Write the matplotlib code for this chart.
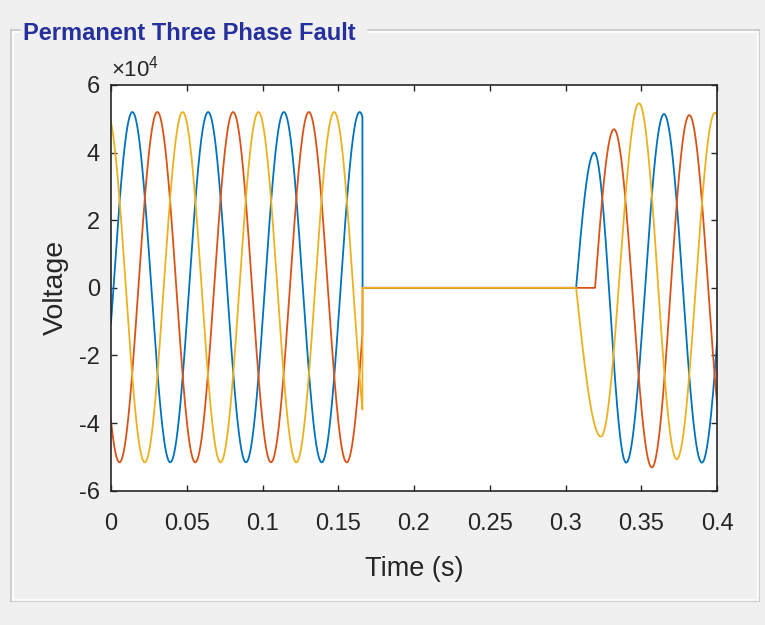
import numpy as np
import matplotlib
matplotlib.use('Agg')
import matplotlib.pyplot as plt
from matplotlib.lines import Line2D
from matplotlib.ticker import FuncFormatter

plt.rcParams['font.family'] = ['Liberation Sans', 'DejaVu Sans']
plt.rcParams['axes.unicode_minus'] = False
plt.rcParams['mathtext.fontset'] = 'custom'
plt.rcParams['mathtext.rm'] = 'Liberation Sans'

# fault window (s)
t_fault = 0.166

# phase A (blue): peaks / troughs (s, V)
a_pre_t = [-0.0109, 0.0141, 0.0391, 0.0641, 0.0891, 0.1141, 0.1391, 0.1641, 0.1891]
a_pre_v = [-5.2e4, 5.2e4, -5.16e4, 5.2e4, -5.16e4, 5.2e4, -5.16e4, 5.2e4, -5.16e4]
a_restore = 0.307
a_post_t = [0.319, 0.340, 0.365, 0.390, 0.415]
a_post_v = [4.0e4, -5.17e4, 5.14e4, -5.17e4, 5.1e4]

# phase B (red)
b_pre_t = [-0.0194, 0.0056, 0.0306, 0.0556, 0.0806, 0.1056, 0.1306, 0.1556, 0.1806]
b_pre_v = [5.2e4, -5.16e4, 5.2e4, -5.16e4, 5.2e4, -5.16e4, 5.2e4, -5.16e4, 5.2e4]
b_restore = 0.3195
b_post_t = [0.332, 0.357, 0.3817, 0.4067]
b_post_v = [4.69e4, -5.31e4, 5.11e4, -5.1e4]

# phase C (yellow)
c_pre_t = [-0.0027, 0.0223, 0.0473, 0.0723, 0.0973, 0.1223, 0.1473, 0.1723]
c_pre_v = [5.2e4, -5.16e4, 5.2e4, -5.16e4, 5.2e4, -5.16e4, 5.2e4, -5.16e4]
c_restore = 0.307
c_post_t = [0.3234, 0.3485, 0.3734, 0.3987, 0.4237]
c_post_v = [-4.4e4, 5.46e4, -5.07e4, 5.18e4, -5.1e4]

x_ticks = [0, 0.05, 0.1, 0.15, 0.2, 0.25, 0.3, 0.35, 0.4]
x_labels = ['0', '0.05', '0.1', '0.15', '0.2', '0.25', '0.3', '0.35', '0.4']
y_ticks = [-6e4, -4e4, -2e4, 0, 2e4, 4e4, 6e4]

colors = ['#0072BD', '#D95319', '#EDB120']


def between_peaks(t, tk, vk):
    tk = np.asarray(tk)
    vk = np.asarray(vk)
    i = np.clip(np.searchsorted(tk, t) - 1, 0, len(tk) - 2)
    f = (t - tk[i]) / (tk[i + 1] - tk[i])
    return (vk[i] + vk[i + 1]) / 2 + (vk[i] - vk[i + 1]) / 2 * np.cos(np.pi * f)


def phase_trace(t, pre_t, pre_v, restore, post_t, post_v):
    v = np.zeros_like(t)
    m = t < t_fault
    v[m] = between_peaks(t[m], pre_t, pre_v)
    # first rise after reclosing starts from zero
    m = (t >= restore) & (t < post_t[0])
    v[m] = post_v[0] * np.sin(np.pi / 2 * (t[m] - restore) / (post_t[0] - restore))
    m = t >= post_t[0]
    v[m] = between_peaks(t[m], post_t, post_v)
    return v


t = np.linspace(0, 0.4, 8001)
va = phase_trace(t, a_pre_t, a_pre_v, a_restore, a_post_t, a_post_v)
vb = phase_trace(t, b_pre_t, b_pre_v, b_restore, b_post_t, b_post_v)
vc = phase_trace(t, c_pre_t, c_pre_v, c_restore, c_post_t, c_post_v)

W, H = 765, 625
fig = plt.figure(figsize=(W / 100, H / 100), dpi=100, facecolor='#f0f0f0')
ax = fig.add_axes([111 / W, 1 - 490.7 / H, 606 / W, 405.7 / H])

for v, c in zip([va, vb, vc], colors):
    ax.plot(t, v, color=c, linewidth=1.3)

ax.set_xlim(0, 0.4)
ax.set_ylim(-6e4, 6e4)
ax.set_xticks(x_ticks)
ax.set_xticklabels(x_labels)
ax.set_yticks(y_ticks)
ax.yaxis.set_major_formatter(FuncFormatter(lambda v, p: '%d' % round(v / 1e4)))
ax.text(0.0, 1.008, r'$\times$10$^4$', transform=ax.transAxes, fontsize=16,
        color='#262626', ha='left', va='bottom')

ax.tick_params(direction='in', length=4, width=1, colors='#262626',
               labelsize=17, top=True, right=True)
ax.tick_params(axis='x', pad=16)
ax.tick_params(axis='y', pad=8)
for s in ax.spines.values():
    s.set_color('#262626')
    s.set_linewidth(1.2)

ax.set_xlabel('Time (s)', fontsize=19.5, color='#262626')
ax.set_ylabel('Voltage', fontsize=20.5, color='#262626')
ax.xaxis.set_label_coords(0.5, -0.16)
ax.yaxis.set_label_coords(-0.07, 0.5)


# group box around the plot
def px(x, y):
    return x / W, 1 - y / H


def box_line(x0, y0, x1, y1, color):
    (a, b), (c, d) = px(x0, y0), px(x1, y1)
    fig.add_artist(Line2D([a, c], [b, d], color=color, linewidth=1.2,
                          transform=fig.transFigure))


for off, col in [(0, '#c8c8c8'), (1.5, '#ffffff')]:
    box_line(11 + off, 30 + off, 20, 30 + off, col)
    box_line(368, 30 + off, 759 - off, 30 + off, col)
    box_line(11 + off, 30 + off, 11 + off, 601 - off, col)
    box_line(759 - off, 30 + off, 759 - off, 601 - off, col)
    box_line(11 + off, 601 - off, 759 - off, 601 - off, col)

fig.text(23 / W, 1 - 40 / H, 'Permanent Three Phase Fault', fontsize=17,
         fontweight='bold', color='#25309c', va='baseline', ha='left')

fig.savefig('out.png', dpi=100, facecolor=fig.get_facecolor())
